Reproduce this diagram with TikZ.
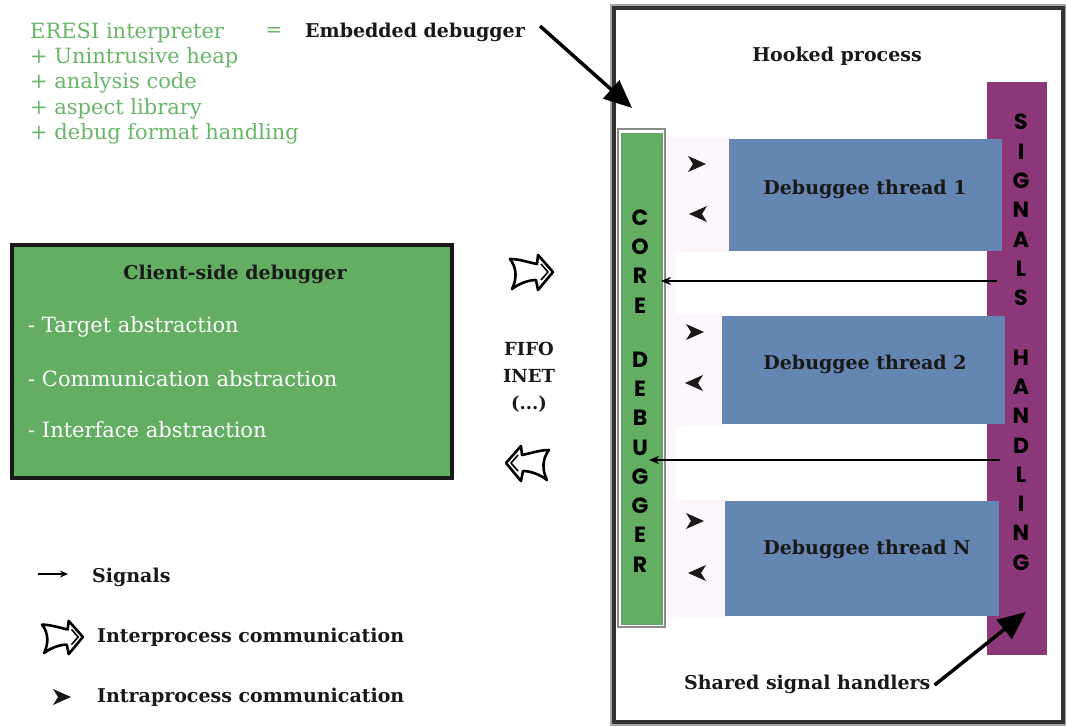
\documentclass[tikz,border=0pt]{standalone}
\usepackage{fontspec}
\setmainfont{DejaVu Serif}
\newfontfamily\gothic{Poppins}
\usetikzlibrary{arrows.meta}
\definecolor{txtgreen}{RGB}{104,182,104}
\definecolor{boxgreen}{RGB}{99,174,99}
\definecolor{threadblue}{RGB}{101,134,178}
\definecolor{sigpurple}{RGB}{140,56,120}
\definecolor{palepink}{RGB}{253,246,252}
\tikzset{
  lbl/.style={font=\bfseries\fontsize{19}{21}\selectfont, text=black!90, inner sep=0},
  greentxt/.style={font=\fontsize{21}{25.3}\selectfont, text=txtgreen, inner sep=0, align=left, anchor=north west},
  whitetxt/.style={font=\fontsize{21}{21}\selectfont, text=white, inner sep=0, anchor=west},
  thread/.style={fill=threadblue, draw=none, inner sep=0},
  vert/.style={font=\gothic\bfseries\fontsize{22}{29.3}\selectfont, align=center, inner sep=0},
  bigarrow/.style={line width=3.5, -{Triangle[length=28,width=24]}},
  sigarrow/.style={line width=1.1, -{Stealth[length=10,width=8]}},
  ipc/.pic={\draw[line width=2.6, line join=round, fill=white]
     (22,0) -- (7,-17) -- (6,-8) .. controls (-4,-10) and (-12,-13) .. (-21,-13)
     .. controls (-14,-4) and (-14,7) .. (-19,17) .. controls (-10,10) and (0,8) .. (5,8)
     -- (7,18) -- cycle;
     \draw[line width=1.6, line join=round] (10,-8) -- (17,0) -- (10,8);},
  intra/.pic={\fill[black!90] (9,0) -- (-9,-8) -- (-4,0) -- (-9,8) -- cycle;}
}
\begin{document}
\begin{tikzpicture}[x=1pt,y=-1pt]
\useasboundingbox[fill=white] (0,0) rectangle (1066,726);

% top-left text
\node[greentxt] (eresi) at (30,22.5) {ERESI interpreter\\+ Unintrusive heap\\+ analysis code\\+ aspect library\\+ debug format handling};
\node[font=\fontsize{20}{20}\selectfont, text=txtgreen, inner sep=0] (eq) at (274,32) {=};
\node[lbl, anchor=west] (emb) at (305,32) {Embedded debugger};

% hooked process
\node[draw=black!35, line width=8, minimum width=449, minimum height=714, inner sep=0] (hookshadow) at (838.5,365) {};
\node[draw=black!80, line width=4, fill=white, minimum width=449, minimum height=714, inner sep=0] (hook) at (838.5,365) {};
\node[lbl] (hooktitle) at (837,56) {Hooked process};

% signals handling bar
\node[fill=sigpurple, minimum width=60, minimum height=573, inner sep=0] (sigbar) at (1017,368.5) {};
\node[vert] (sigword) at (1021,210) {S\\I\\G\\N\\A\\L\\S};
\node[vert] (handword) at (1021,460) {H\\A\\N\\D\\L\\I\\N\\G};

% pale areas
\fill[palepink] (662,137) rectangle (730,252);
\fill[palepink] (662,252) rectangle (676,620);
\fill[palepink] (662,314) rectangle (724,426);
\fill[palepink] (662,500) rectangle (727,618);

% threads
\node[thread, minimum width=273, minimum height=112] (t1) at (865.5,195) {};
\node[thread, minimum width=283, minimum height=108] (t2) at (863.5,370) {};
\node[thread, minimum width=274, minimum height=115] (tn) at (862,558.5) {};
\node[lbl] (t1txt) at (865,189) {Debuggee thread 1};
\node[lbl] (t2txt) at (865,364) {Debuggee thread 2};
\node[lbl] (tntxt) at (867,549) {Debuggee thread N};

% core debugger bar
\node[draw=black!45, line width=1.5, minimum width=47, minimum height=498, inner sep=0] (coreframe) at (641.5,378) {};
\node[fill=boxgreen, draw=black!60!green!60, line width=1.5, minimum width=40, minimum height=491, inner sep=0] (core) at (642,379) {};
\node[vert] (coreword) at (640,261.5) {C\\O\\R\\E};
\node[vert] (debword) at (640,462) {D\\E\\B\\U\\G\\G\\E\\R};

% intraprocess arrowheads
\pic at (697,164) {intra};
\pic[rotate=180] at (698,214) {intra};
\pic at (695,332) {intra};
\pic[rotate=180] at (694,383) {intra};
\pic at (695,521) {intra};
\pic[rotate=180] at (697,573) {intra};

% signal arrows
\coordinate (s1a) at (997,281);
\coordinate (s1b) at (661,281);
\coordinate (s2a) at (1000,460);
\coordinate (s2b) at (649,460);
\draw[sigarrow] (s1a) -- (s1b);
\draw[sigarrow] (s2a) -- (s2b);

% embedded debugger arrow
\coordinate (embtip) at (632,108);
\draw[bigarrow] ([xshift=235pt,yshift=6pt]emb.west) -- (embtip);

% shared signal handlers
\node[lbl, anchor=west] (shared) at (684,684) {Shared signal handlers};
\coordinate (sharedtip) at (1026,612);
\draw[bigarrow] ([xshift=4pt,yshift=-1pt]shared.east) -- (sharedtip);

% client-side debugger
\node[fill=boxgreen, draw=black!90, line width=4, minimum width=440, minimum height=233, inner sep=0] (client) at (232,361.5) {};
\node[lbl] (clienttitle) at (235,274) {Client-side debugger};
\node[whitetxt] (i1) at (28,327) {- Target abstraction};
\node[whitetxt] (i2) at (28,379) {- Communication abstraction};
\node[whitetxt] (i3) at (28,430) {- Interface abstraction};

% interprocess arrows
\pic at (531,272) {ipc};
\pic[xscale=-1] at (528,463) {ipc};
\node[lbl, align=center, font=\bfseries\fontsize{18}{27}\selectfont] (fifo) at (529,377) {FIFO\\INET\\(...)};

% legend
\coordinate (lg1a) at (38,574);
\coordinate (lg1b) at (68,574);
\draw[line width=1.1, -{Stealth[length=8,width=7]}] (lg1a) -- (lg1b);
\node[lbl, anchor=west] (lsig) at (92,577) {Signals};
\pic[scale=0.95] at (62,637) {ipc};
\node[lbl, anchor=west] (lipc) at (97,637) {Interprocess communication};
\pic at (62,697) {intra};
\node[lbl, anchor=west] (lintra) at (97,697) {Intraprocess communication};
\end{tikzpicture}
\end{document}
